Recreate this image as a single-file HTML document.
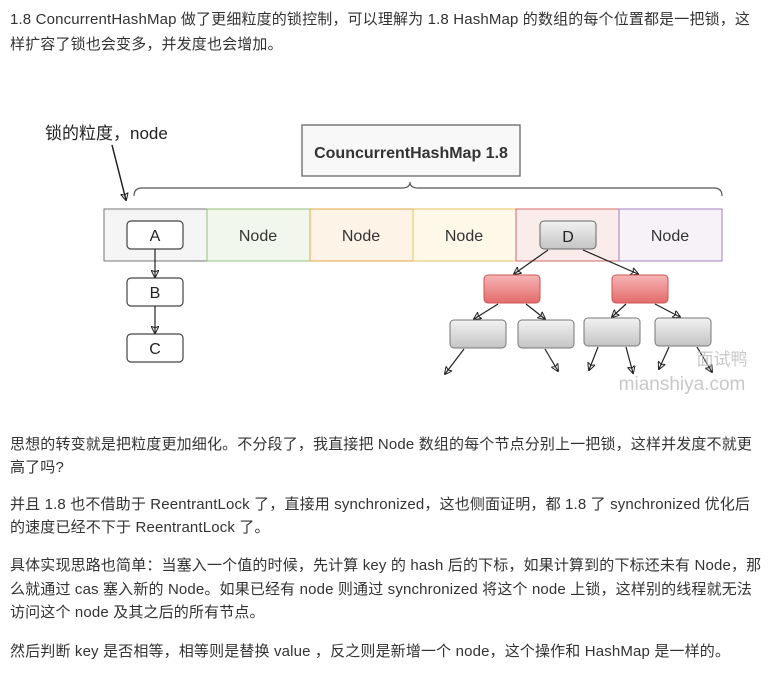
<!DOCTYPE html>
<html><head><meta charset="utf-8"><style>
body{margin:0;width:772px;height:680px;background:#fff;position:relative;overflow:hidden;font-family:"Liberation Sans","Noto Sans CJK SC",sans-serif;color:#333;}
.l{position:absolute;left:10px;font-size:15px;letter-spacing:0.15px;white-space:nowrap;line-height:20px;}
svg{position:absolute;left:0;top:0}
</style></head><body>
<div class="l" style="top:10px">1.8 ConcurrentHashMap 做了更细粒度的锁控制，可以理解为 1.8 HashMap 的数组的每个位置都是一把锁，这</div>
<div class="l" style="top:35px">样扩容了锁也会变多，并发度也会增加。</div>
<svg width="772" height="680" viewBox="0 0 772 680" font-family="Liberation Sans, Noto Sans CJK SC, sans-serif">
<defs>
<marker id="ar" markerWidth="8" markerHeight="8" refX="7" refY="4" orient="auto" markerUnits="userSpaceOnUse"><path d="M0,0 L8,4 L0,8 L2,4 Z" fill="none" stroke="#222" stroke-width="1"/></marker>
<linearGradient id="g" x1="0" y1="0" x2="0" y2="1"><stop offset="0" stop-color="#f2f2f2"/><stop offset="1" stop-color="#c4c4c4"/></linearGradient>
<linearGradient id="r" x1="0" y1="0" x2="0" y2="1"><stop offset="0" stop-color="#f6b5b5"/><stop offset="1" stop-color="#e46a6a"/></linearGradient>
</defs>
<text x="45" y="139" font-size="17" fill="#222">锁的粒度，node</text>
<line x1="112" y1="145" x2="126" y2="200" stroke="#222" stroke-width="1.5" marker-end="url(#ar)"/>
<rect x="302" y="125" width="218" height="51" fill="#f8f8f8" stroke="#666" stroke-width="1.3"/>
<text x="411" y="158" font-size="16" font-weight="bold" fill="#333" text-anchor="middle">CouncurrentHashMap 1.8</text>
<path d="M134,196 q0,-8 8,-8 L402,188 q8,0 8,-6 q0,6 8,6 L714,188 q8,0 8,8" fill="none" stroke="#555" stroke-width="1.2"/>
<rect x="104" y="209" width="103" height="52" fill="#f5f5f5" stroke="#777"/>
<rect x="207" y="209" width="103" height="52" fill="#f1f7ec" stroke="#92c27a"/>
<rect x="310" y="209" width="103" height="52" fill="#fdf3e6" stroke="#e2a740"/>
<rect x="413" y="209" width="103" height="52" fill="#fdf8e8" stroke="#e6c25e"/>
<rect x="516" y="209" width="103" height="52" fill="#fbecec" stroke="#cf6767"/>
<rect x="619" y="209" width="103" height="52" fill="#f6f2f8" stroke="#a37fbf"/>
<g font-size="16" fill="#333" text-anchor="middle">
<text x="258" y="241">Node</text><text x="361" y="241">Node</text><text x="464" y="241">Node</text><text x="670" y="241">Node</text>
</g>
<g fill="#fff" stroke="#444" stroke-width="1.2">
<rect x="127" y="221" width="56" height="28" rx="4"/>
<rect x="127" y="278" width="56" height="28" rx="4"/>
<rect x="127" y="334" width="56" height="28" rx="4"/>
</g>
<g font-size="16" fill="#222" text-anchor="middle"><text x="155" y="241">A</text><text x="155" y="298">B</text><text x="155" y="354">C</text></g>
<g stroke="#222" stroke-width="1.2" fill="none" marker-end="url(#ar)">
<line x1="155" y1="249" x2="155" y2="277"/>
<line x1="155" y1="306" x2="155" y2="333"/>
<line x1="548" y1="250" x2="514" y2="274"/>
<line x1="583" y1="250" x2="638" y2="274"/>
<line x1="498" y1="304" x2="474" y2="319"/>
<line x1="526" y1="304" x2="545" y2="319"/>
<line x1="626" y1="304" x2="612" y2="317"/>
<line x1="655" y1="304" x2="680" y2="317"/>
<line x1="464" y1="349" x2="445" y2="374"/>
<line x1="545" y1="349" x2="558" y2="371"/>
<line x1="598" y1="347" x2="589" y2="370"/>
<line x1="626" y1="347" x2="633" y2="373"/>
<line x1="669" y1="347" x2="659" y2="369"/>
<line x1="697" y1="347" x2="712" y2="372"/>
</g>
<rect x="540" y="221" width="56" height="28" rx="4" fill="url(#g)" stroke="#666"/>
<text x="568" y="242" font-size="16" fill="#222" text-anchor="middle">D</text>
<rect x="484" y="275" width="56" height="28" rx="4" fill="url(#r)" stroke="#c55"/>
<rect x="612" y="275" width="56" height="28" rx="4" fill="url(#r)" stroke="#c55"/>
<g fill="url(#g)" stroke="#777">
<rect x="450" y="320" width="56" height="28" rx="4"/>
<rect x="518" y="320" width="56" height="28" rx="4"/>
<rect x="584" y="318" width="56" height="28" rx="4"/>
<rect x="655" y="318" width="56" height="28" rx="4"/>
</g>
<text x="722" y="365" font-size="17" fill="#bbb" text-anchor="middle" opacity="0.8">面试鸭</text>
<text x="682" y="390" font-size="19" fill="#bbb" text-anchor="middle" opacity="0.8">mianshiya.com</text>
</svg>
<div class="l" style="top:435px">思想的转变就是把粒度更加细化。不分段了，我直接把 Node 数组的每个节点分别上一把锁，这样并发度不就更</div>
<div class="l" style="top:458px">高了吗?</div>
<div class="l" style="top:495px">并且 1.8 也不借助于 ReentrantLock 了，直接用 synchronized，这也侧面证明，都 1.8 了 synchronized 优化后</div>
<div class="l" style="top:518px">的速度已经不下于 ReentrantLock 了。</div>
<div class="l" style="top:556px">具体实现思路也简单：当塞入一个值的时候，先计算 key 的 hash 后的下标，如果计算到的下标还未有 Node，那</div>
<div class="l" style="top:580px">么就通过 cas 塞入新的 Node。如果已经有 node 则通过 synchronized 将这个 node 上锁，这样别的线程就无法</div>
<div class="l" style="top:603px">访问这个 node 及其之后的所有节点。</div>
<div class="l" style="top:642px">然后判断 key 是否相等，相等则是替换 value ，反之则是新增一个 node，这个操作和 HashMap 是一样的。</div>
</body></html>
